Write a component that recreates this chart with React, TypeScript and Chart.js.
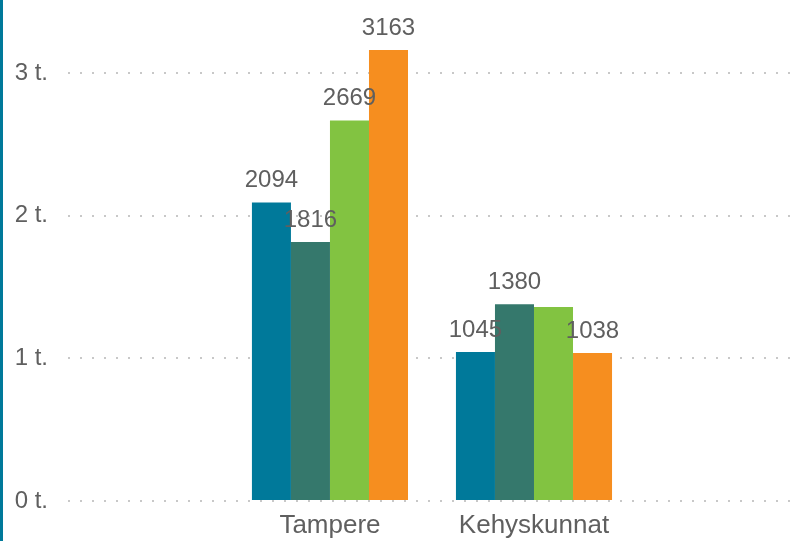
import React, { useEffect, useRef } from "react";
import { Chart, registerables } from "chart.js";

Chart.register(...registerables);

const categories = ["Tampere", "Kehyskunnat"];
const seriesNames = ["Sarja 1", "Sarja 2", "Sarja 3", "Sarja 4"];
const series1 = [2094, 1045];
const series2 = [1816, 1380];
const series3 = [2669, 1360];
const series4 = [3163, 1038];
const seriesColors = ["#00799A", "#35786C", "#82C341", "#F68E1F"];
const yTickValues = [0, 1000, 2000, 3000];
const yTickLabels = ["0 t.", "1 t.", "2 t.", "3 t."];

const FONT = "'Liberation Sans', Arial, Helvetica, sans-serif";
const TEXT = "#5f5f5f";

const valueLabels = {
  id: "valueLabels",
  afterDatasetsDraw(chart: any) {
    const ctx = chart.ctx;
    const size = 24;
    ctx.save();
    ctx.font = `${size}px ${FONT}`;
    ctx.fillStyle = TEXT;
    ctx.textAlign = "center";
    ctx.textBaseline = "alphabetic";
    const drawn: { l: number; r: number; t: number; b: number }[] = [];
    chart.data.datasets.forEach((ds: any, di: number) => {
      const meta = chart.getDatasetMeta(di);
      meta.data.forEach((el: any, i: number) => {
        const v = ds.data[i].y;
        const text = String(v);
        const w = ctx.measureText(text).width;
        const base = el.y - 15;
        const rect = { l: el.x - w / 2, r: el.x + w / 2, t: base - size * 0.72, b: base };
        const hit = drawn.some(
          (d) => rect.l < d.r && rect.r > d.l && rect.t < d.b && rect.b > d.t
        );
        if (hit) return;
        drawn.push(rect);
        ctx.fillText(text, el.x, base);
      });
    });
    ctx.restore();
  },
};

export default function App() {
  const ref = useRef<HTMLCanvasElement | null>(null);
  useEffect(() => {
    if (!ref.current) return;
    const all = [series1, series2, series3, series4];
    const chart = new Chart(ref.current, {
      type: "bar",
      data: {
        datasets: all.map((vals, si) => ({
          label: seriesNames[si],
          data: categories.map((_, i) => ({ x: i, y: vals[i] })),
          backgroundColor: seriesColors[si],
          borderWidth: 0,
          categoryPercentage: 0.765,
          barPercentage: 1,
        })),
      },
      options: {
        animation: false,
        responsive: true,
        maintainAspectRatio: false,
        layout: { padding: { left: 12, top: 2, right: 0, bottom: 0 } },
        plugins: { legend: { display: false }, tooltip: { enabled: false } },
        scales: {
          x: {
            type: "linear",
            min: -1.284,
            max: 2.294,
            offset: false,
            grid: { display: false, drawTicks: false },
            border: { display: false },
            afterBuildTicks: (axis: any) => {
              axis.ticks = categories.map((_, i) => ({ value: i }));
            },
            afterFit: (axis: any) => {
              axis.height = 40;
              axis.paddingLeft = 0;
              axis.paddingRight = 0;
            },
            ticks: {
              autoSkip: false,
              maxRotation: 0,
              padding: 9,
              color: TEXT,
              font: { family: FONT, size: 26 },
              callback: (v: any) => categories[Math.round(Number(v))],
            },
          },
          y: {
            min: 0,
            max: 3500,
            grid: {
              color: "#c8c8c8",
              lineWidth: 2,
              drawTicks: false,
              tickBorderDash: [2, 10],
            },
            border: { display: false, dash: [2, 10] },
            afterBuildTicks: (axis: any) => {
              axis.ticks = yTickValues.map((v) => ({ value: v }));
            },
            afterFit: (axis: any) => {
              axis.width = 53;
              axis.paddingTop = 0;
              axis.paddingBottom = 0;
            },
            ticks: {
              padding: 20,
              color: TEXT,
              font: { family: FONT, size: 24 },
              callback: (v: any) => yTickLabels[yTickValues.indexOf(Number(v))],
            },
          },
        },
      },
      plugins: [valueLabels],
    } as any);
    return () => chart.destroy();
  }, []);
  return (
    <div
      style={{
        position: "fixed",
        left: 0,
        top: 0,
        width: 798,
        height: 541,
        boxSizing: "border-box",
        borderLeft: "3px solid #00799A",
        background: "#fff",
      }}
    >
      <div style={{ position: "relative", width: 795, height: 541 }}>
        <canvas ref={ref} />
      </div>
    </div>
  );
}
